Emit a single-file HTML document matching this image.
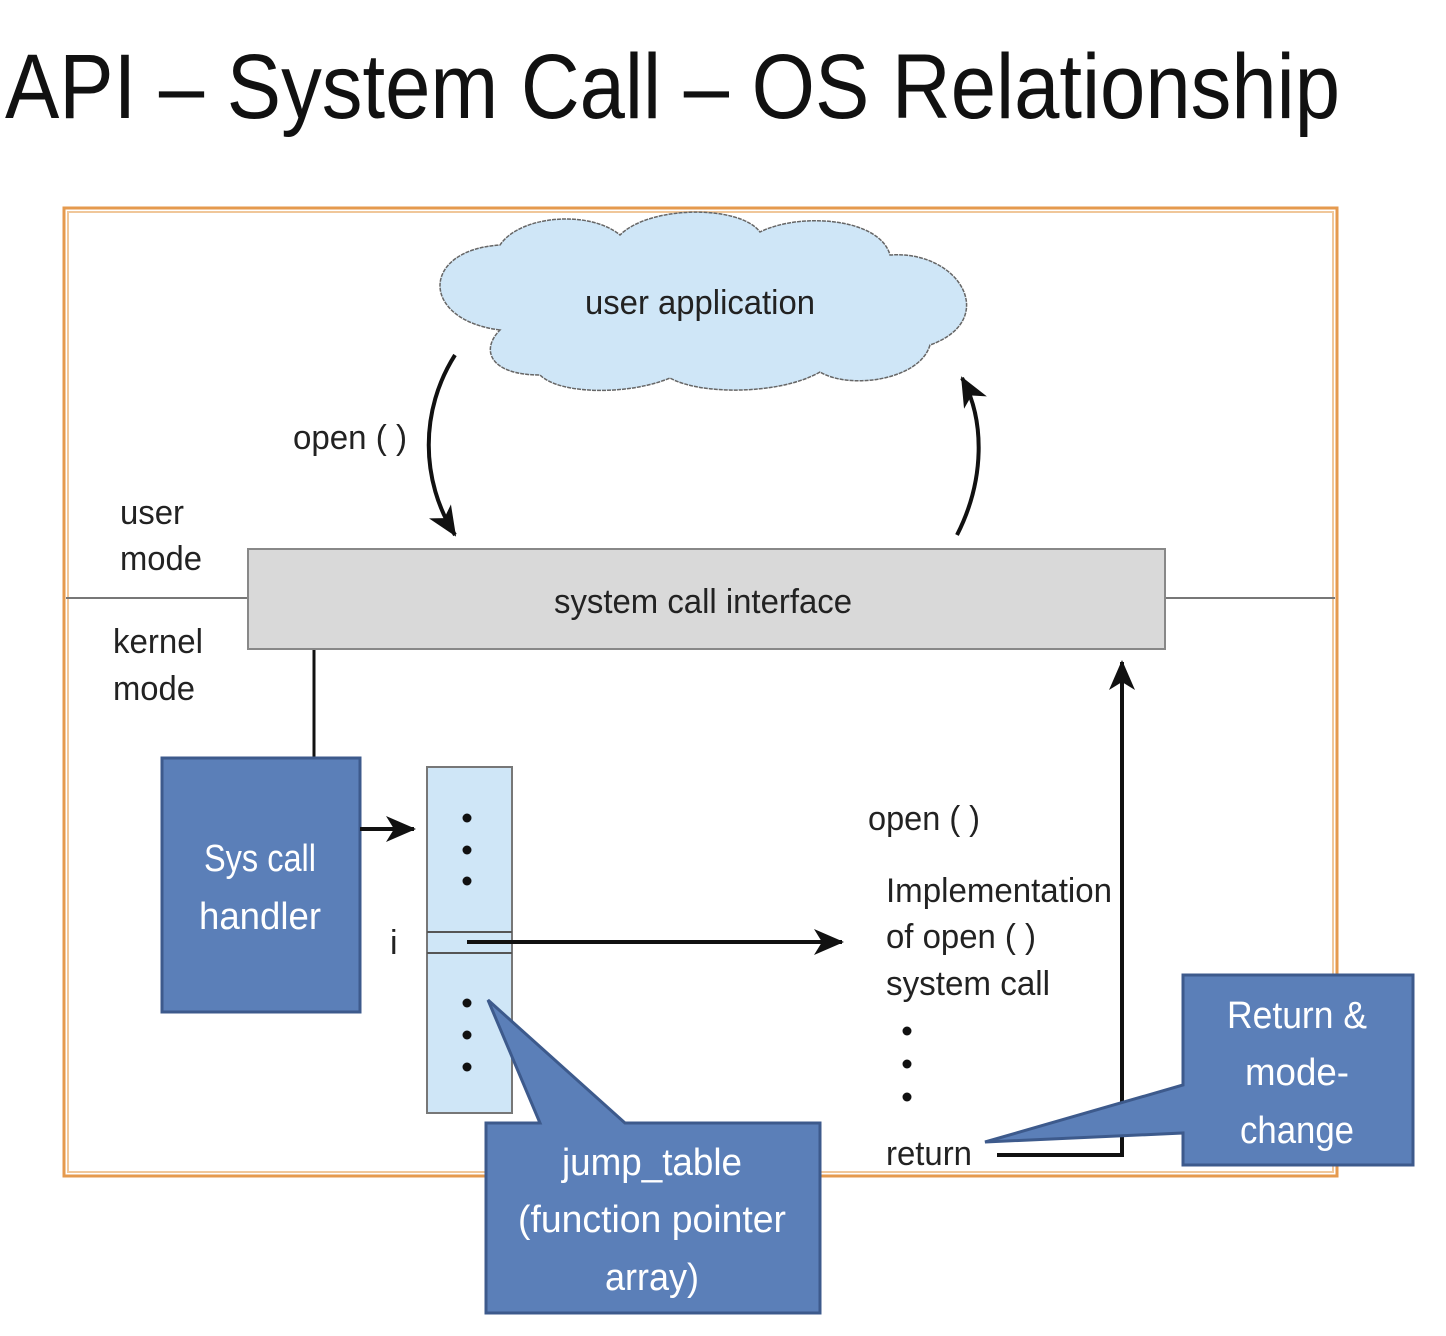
<!DOCTYPE html>
<html><head><meta charset="utf-8"><style>
body{margin:0;background:#fff;}
svg{display:block;}
text{font-family:"Liberation Sans",sans-serif;}
</style></head><body>
<svg width="1446" height="1336" viewBox="0 0 1446 1336" xmlns="http://www.w3.org/2000/svg">
<defs>
<marker id="ah2" markerWidth="30" markerHeight="26" refX="28" refY="13" orient="auto" markerUnits="userSpaceOnUse" viewBox="0 0 30 26">
<path d="M0,0 L30,13 L0,26 L8,13 Z" fill="#111"/></marker>
</defs>
<text x="5" y="118" font-size="92" fill="#111" textLength="1335" lengthAdjust="spacingAndGlyphs">API – System Call – OS Relationship</text>
<rect x="64" y="208" width="1273" height="968" fill="none" stroke="#e59a4e" stroke-width="3"/>
<rect x="68" y="212" width="1265" height="960" fill="none" stroke="#f0c79a" stroke-width="2"/>
<path d="M500,330 C420,320 420,250 500,245 C520,215 590,210 620,235 C650,205 740,205 760,232 C800,212 880,218 890,255 C960,250 1000,320 930,345 C920,380 850,390 820,372 C780,395 700,395 670,378 C630,395 560,395 540,375 C490,375 480,350 500,330 Z" fill="#cfe6f7" stroke="#666" stroke-width="1.5" stroke-dasharray="4,1"/>
<text x="700" y="314" font-size="34" fill="#222" text-anchor="middle" textLength="230" lengthAdjust="spacingAndGlyphs">user application</text>
<line x1="66" y1="598" x2="248" y2="598" stroke="#777" stroke-width="2"/>
<line x1="1165" y1="598" x2="1335" y2="598" stroke="#777" stroke-width="2"/>
<rect x="248" y="549" width="917" height="100" fill="#d9d9d9" stroke="#888" stroke-width="2"/>
<text x="703" y="613" font-size="34" fill="#222" text-anchor="middle" textLength="298" lengthAdjust="spacingAndGlyphs">system call interface</text>
<text x="120" y="524" font-size="34" fill="#222" textLength="64" lengthAdjust="spacingAndGlyphs">user</text>
<text x="120" y="570" font-size="34" fill="#222" textLength="82" lengthAdjust="spacingAndGlyphs">mode</text>
<text x="113" y="653" font-size="34" fill="#222" textLength="90" lengthAdjust="spacingAndGlyphs">kernel</text>
<text x="113" y="700" font-size="34" fill="#222" textLength="82" lengthAdjust="spacingAndGlyphs">mode</text>
<path d="M455,355 C420,410 420,480 455,535" fill="none" stroke="#111" stroke-width="4" marker-end="url(#ah2)"/>
<path d="M957,535 C985,480 985,420 962,378" fill="none" stroke="#111" stroke-width="4" marker-end="url(#ah2)"/>
<text x="293" y="449" font-size="34" fill="#222" textLength="114" lengthAdjust="spacingAndGlyphs">open ( )</text>
<line x1="314" y1="650" x2="314" y2="758" stroke="#111" stroke-width="3"/>
<rect x="162" y="758" width="198" height="254" fill="#5b7fb8" stroke="#3d5a8c" stroke-width="3"/>
<text x="260" y="871" font-size="38" fill="#fff" text-anchor="middle" textLength="112" lengthAdjust="spacingAndGlyphs">Sys call</text>
<text x="260" y="929" font-size="38" fill="#fff" text-anchor="middle" textLength="122" lengthAdjust="spacingAndGlyphs">handler</text>
<line x1="360" y1="829" x2="414" y2="829" stroke="#111" stroke-width="4" marker-end="url(#ah2)"/>
<rect x="427" y="767" width="85" height="346" fill="#cfe6f7" stroke="#777" stroke-width="2"/>
<line x1="427" y1="932" x2="512" y2="932" stroke="#555" stroke-width="2"/>
<line x1="427" y1="953" x2="512" y2="953" stroke="#555" stroke-width="2"/>
<g fill="#111"><circle cx="467" cy="818" r="4.5"/><circle cx="467" cy="850" r="4.5"/><circle cx="467" cy="881" r="4.5"/><circle cx="467" cy="1003" r="4.5"/><circle cx="467" cy="1035" r="4.5"/><circle cx="467" cy="1067" r="4.5"/>
<circle cx="907" cy="1031" r="4.5"/><circle cx="907" cy="1064" r="4.5"/><circle cx="907" cy="1097" r="4.5"/></g>
<text x="390" y="954" font-size="34" fill="#222">i</text>
<line x1="467" y1="942" x2="842" y2="942" stroke="#111" stroke-width="4" marker-end="url(#ah2)"/>
<text x="868" y="830" font-size="34" fill="#222" textLength="112" lengthAdjust="spacingAndGlyphs">open ( )</text>
<text x="886" y="902" font-size="34" fill="#222" textLength="226" lengthAdjust="spacingAndGlyphs">Implementation</text>
<text x="886" y="948" font-size="34" fill="#222" textLength="150" lengthAdjust="spacingAndGlyphs">of open ( )</text>
<text x="886" y="995" font-size="34" fill="#222" textLength="164" lengthAdjust="spacingAndGlyphs">system call</text>
<text x="886" y="1165" font-size="34" fill="#222" textLength="86" lengthAdjust="spacingAndGlyphs">return</text>
<path d="M997,1155 L1122,1155 L1122,662" fill="none" stroke="#111" stroke-width="4" marker-end="url(#ah2)"/>
<path d="M486,1123 L540,1123 L488,1000 L625,1123 L820,1123 L820,1313 L486,1313 Z" fill="#5b7fb8" stroke="#3d5a8c" stroke-width="3"/>
<text x="652" y="1175" font-size="38" fill="#fff" text-anchor="middle" textLength="180" lengthAdjust="spacingAndGlyphs">jump_table</text>
<text x="652" y="1232" font-size="38" fill="#fff" text-anchor="middle" textLength="268" lengthAdjust="spacingAndGlyphs">(function pointer</text>
<text x="652" y="1290" font-size="38" fill="#fff" text-anchor="middle" textLength="94" lengthAdjust="spacingAndGlyphs">array)</text>
<path d="M1183,975 L1413,975 L1413,1165 L1183,1165 L1183,1133 L985,1142 L1183,1085 Z" fill="#5b7fb8" stroke="#3d5a8c" stroke-width="3"/>
<text x="1297" y="1028" font-size="38" fill="#fff" text-anchor="middle" textLength="140" lengthAdjust="spacingAndGlyphs">Return &amp;</text>
<text x="1297" y="1085" font-size="38" fill="#fff" text-anchor="middle" textLength="104" lengthAdjust="spacingAndGlyphs">mode-</text>
<text x="1297" y="1143" font-size="38" fill="#fff" text-anchor="middle" textLength="114" lengthAdjust="spacingAndGlyphs">change</text>
</svg>
</body></html>
